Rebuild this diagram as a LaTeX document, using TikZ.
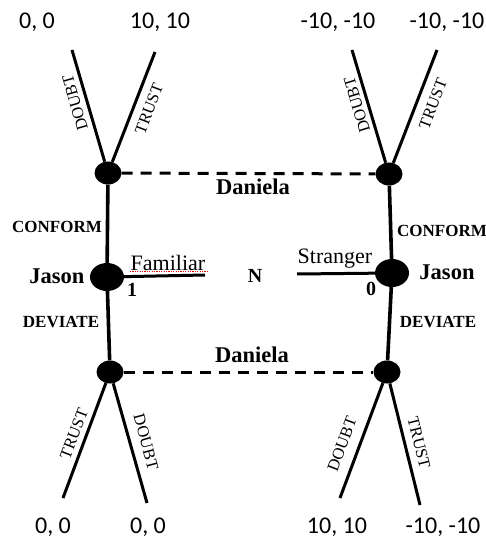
\documentclass[tikz,border=0pt]{standalone}
\usepackage{fontspec}
\setmainfont{Liberation Serif}
\newfontfamily\payfont{Carlito}
\usetikzlibrary{shapes.geometric}
\begin{document}
\begin{tikzpicture}[x=1pt,y=-1pt,
  dot/.style={ellipse,fill=black,draw=none,inner sep=0pt},
  sdot/.style={dot,minimum width=27pt,minimum height=23pt},
  bdot/.style={dot,minimum width=34pt,minimum height=28pt},
  edge/.style={line width=3pt},
  vedge/.style={line width=3.6pt},
  info/.style={line width=3pt,dash pattern=on 11pt off 8pt},
  pay/.style={font=\payfont\fontsize{24}{24}\selectfont,inner sep=0pt},
  movelab/.style={font=\bfseries\fontsize{17}{17}\selectfont,inner sep=0pt},
  player/.style={font=\bfseries\fontsize{22.5}{22.5}\selectfont,inner sep=0pt},
  act/.style={font=\fontsize{16.5}{16.5}\selectfont,inner sep=0pt},
  natlab/.style={font=\fontsize{22}{22}\selectfont,inner sep=0pt},
  numlab/.style={font=\bfseries\fontsize{20}{20}\selectfont,inner sep=0pt}]
\useasboundingbox (0,0) rectangle (486,545);

% decision nodes
\node[sdot] (tl) at (108,173) {};
\node[sdot] (tr) at (389,174) {};
\node[bdot] (jl) at (107,277) {};
\node[bdot] (jr) at (392,273) {};
\node[sdot] (bl) at (110,372) {};
\node[sdot] (br) at (387,372) {};

% terminal coordinates
\coordinate (tlD) at (72,50);
\coordinate (tlT) at (155,52);
\coordinate (trD) at (352,50);
\coordinate (trT) at (437,50);
\coordinate (blT) at (63,498);
\coordinate (blD) at (147,503);
\coordinate (brD) at (340,498);
\coordinate (brT) at (420,505);
\coordinate (famEnd) at (205,275);
\coordinate (strStart) at (297,274);

% vertical lines
\draw[vedge] (tl) -- (jl) -- (bl);
\draw[vedge] (tr) -- (jr) -- (br);

% branches
\draw[edge] (tl) -- (tlD);
\draw[edge] (tl) -- (tlT);
\draw[edge] (tr) -- (trD);
\draw[edge] (tr) -- (trT);
\draw[edge] (bl) -- (blT);
\draw[edge] (bl) -- (blD);
\draw[edge] (br) -- (brD);
\draw[edge] (br) -- (brT);

% nature lines
\draw[edge] (jl) -- (famEnd);
\draw[edge] (strStart) -- (jr);
\draw[red!85!black,line width=0.45pt,dash pattern=on 1.2pt off 1.2pt] (130,271.5) -- (208,271.5);

% information sets
\draw[info] (tl) -- (tr);
\draw[info] (bl) -- (br);

% payoffs
\node[pay] (p1) at (37,22) {0, 0};
\node[pay] (p2) at (160,22) {10, 10};
\node[pay] (p3) at (338,22) {-10, -10};
\node[pay] (p4) at (447,22) {-10, -10};
\node[pay] (p5) at (53,527) {0, 0};
\node[pay] (p6) at (148,527) {0, 0};
\node[pay] (p7) at (337,527) {10, 10};
\node[pay] (p8) at (443,527) {-10, -10};

% action labels
\node[act,rotate=106] (a1) at (75,103) {DOUBT};
\node[act,rotate=69] (a2) at (149,109) {TRUST};
\node[act,rotate=107] (a3) at (357,105) {DOUBT};
\node[act,rotate=69] (a4) at (433,104) {TRUST};
\node[act,rotate=69] (a5) at (74,434) {TRUST};
\node[act,rotate=-75] (a6) at (146,442) {DOUBT};
\node[act,rotate=69.5] (a7) at (342,444) {DOUBT};
\node[act,rotate=-76] (a8) at (419,443) {TRUST};

% players and moves
\node[player] (d1) at (253,187) {Daniela};
\node[player] (d2) at (252,355) {Daniela};
\node[player] (j1) at (57,276) {Jason};
\node[player] (j2) at (447,272) {Jason};
\node[movelab] (c1) at (57,227) {CONFORM};
\node[movelab] (c2) at (442,231) {CONFORM};
\node[movelab] (v1) at (61,322) {DEVIATE};
\node[movelab] (v2) at (438,322) {DEVIATE};

% nature
\node[natlab] (fam) at (168,263) {Familiar};
\node[natlab] (str) at (335,259) {Stranger};
\node[numlab] (nn) at (255,276) {N};
\node[numlab] (one) at (132,290) {1};
\node[numlab] (zero) at (371,289) {0};
\end{tikzpicture}
\end{document}
